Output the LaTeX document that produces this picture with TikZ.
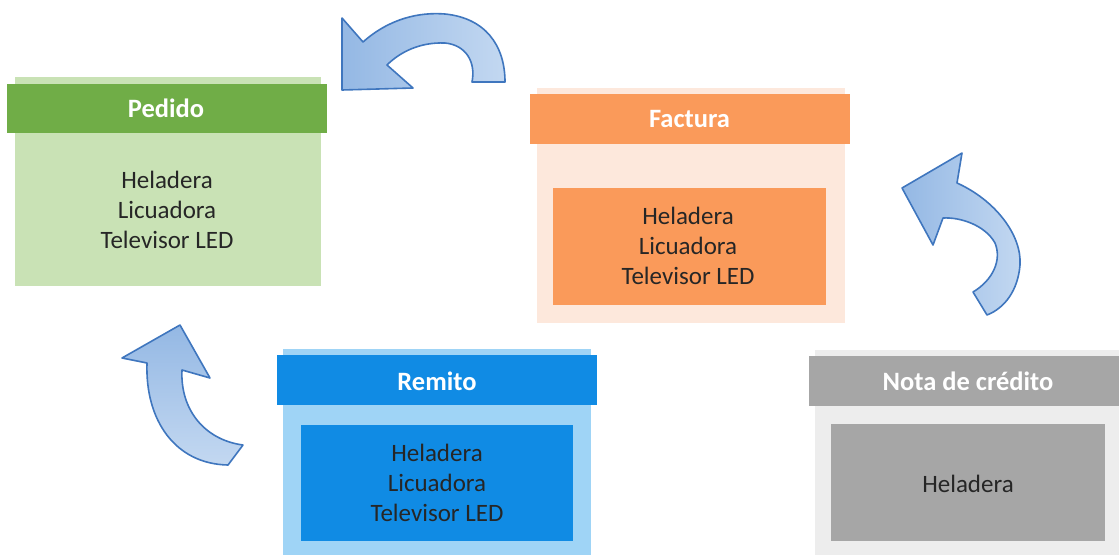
\documentclass[tikz,border=0pt]{standalone}
\usepackage{fontspec}
\setmainfont{Carlito}
\definecolor{pedH}{HTML}{70AD47}
\definecolor{pedB}{HTML}{C9E2B5}
\definecolor{facH}{HTML}{FA9A5A}
\definecolor{facB}{HTML}{FDE8DC}
\definecolor{remH}{HTML}{108BE4}
\definecolor{remB}{HTML}{9FD4F6}
\definecolor{notH}{HTML}{A6A6A6}
\definecolor{notB}{HTML}{EDEDED}
\definecolor{txt}{HTML}{262626}
\definecolor{arrF}{HTML}{94B8E4}
\definecolor{arrF2}{HTML}{C3D8F1}
\definecolor{arrL}{HTML}{3F76BE}
\tikzset{
  panel/.style={inner sep=0pt, outer sep=0pt, draw=none},
  hdrtext/.style={text=white, font=\fontsize{26.5}{30}\selectfont\bfseries},
  bodytext/.style={text=txt, align=center, font=\fontsize{25}{30}\selectfont},
  curvarrow/.style={draw=arrL, line width=1.6pt, line join=round}
}
\begin{document}
\begin{tikzpicture}[x=1pt,y=-1pt]
\useasboundingbox (0,0) rectangle (1119,555);
% Pedido
\node[panel, fill=pedB, minimum width=306pt, minimum height=209pt] (pedbody) at (168,181.5) {};
\node[panel, fill=pedH, minimum width=320pt, minimum height=49pt] (pedhead) at (167,108.5) {};
\node[hdrtext] (pedtitle) at (166,108) {Pedido};
\node[bodytext] (pedtext) at (167,210) {Heladera\\Licuadora\\Televisor LED};
% Factura
\node[panel, fill=facB, minimum width=308pt, minimum height=235pt] (facbody) at (691,205.5) {};
\node[panel, fill=facH, minimum width=320pt, minimum height=50pt] (fachead) at (690,119) {};
\node[panel, fill=facH, minimum width=273pt, minimum height=117pt] (facinner) at (689.5,246.5) {};
\node[hdrtext] (factitle) at (689.5,119) {Factura};
\node[bodytext] (factext) at (688,246) {Heladera\\Licuadora\\Televisor LED};
% Remito
\node[panel, fill=remB, minimum width=308pt, minimum height=206pt] (rembody) at (437,452) {};
\node[panel, fill=remH, minimum width=320pt, minimum height=50pt] (remhead) at (437,380) {};
\node[panel, fill=remH, minimum width=272pt, minimum height=116pt] (reminner) at (437,483) {};
\node[hdrtext] (remtitle) at (437,381) {Remito};
\node[bodytext] (remtext) at (437,483) {Heladera\\Licuadora\\Televisor LED};
% Nota de credito
\node[panel, fill=notB, minimum width=304pt, minimum height=205pt] (notbody) at (967,452.5) {};
\node[panel, fill=notH, minimum width=310pt, minimum height=50pt] (nothead) at (964,381) {};
\node[panel, fill=notH, minimum width=274pt, minimum height=117pt] (notinner) at (968,482.5) {};
\node[hdrtext] (nottitle) at (968,381) {Nota de crédito};
\node[bodytext] (nottext) at (968,484) {Heladera};
% Arrows
\draw[curvarrow, left color=arrF, right color=arrF2] (342,90) -- (342,18) -- (363,42)
  .. controls (390,18) and (420,12) .. (445,14)
  .. controls (485,18) and (505,45) .. (505,82)
  -- (472,82)
  .. controls (476,62) and (466,45) .. (445,43)
  .. controls (420,42) and (400,52) .. (387,65)
  -- (413,88) -- cycle;
\draw[curvarrow, top color=arrF, bottom color=arrF2] (180,325) -- (122,358) -- (147,363)
  .. controls (145,420) and (175,464) .. (228,465)
  -- (243,445)
  .. controls (205,440) and (180,410) .. (182,370)
  -- (210,378) -- cycle;
\draw[curvarrow, left color=arrF, right color=arrF2] (902,188) -- (962,153) -- (957,183)
  .. controls (995,200) and (1022,235) .. (1020,265)
  .. controls (1018,290) and (1005,308) .. (987,315)
  -- (973,292)
  .. controls (993,280) and (1002,260) .. (995,243)
  .. controls (985,225) and (960,217) .. (943,218)
  -- (933,245) -- cycle;
\end{tikzpicture}
\end{document}
